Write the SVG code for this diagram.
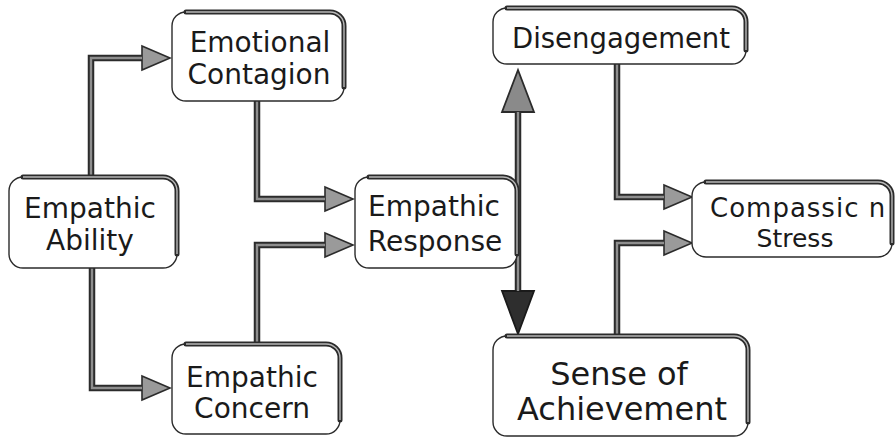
<svg xmlns="http://www.w3.org/2000/svg" width="896" height="438" viewBox="0 0 896 438">
  <style>
    .box { fill: #ffffff; stroke: #2b2b2b; stroke-width: 1.4; }
    .edge { fill: none; stroke: #2b2b2b; stroke-width: 5; stroke-linecap: round; }
    .edge-in { fill: none; stroke: #b8b8b8; stroke-width: 1.4; }
    .wire { fill: none; stroke: #2b2b2b; stroke-width: 6.5; stroke-linejoin: miter; }
    .wire-in { fill: none; stroke: #8e8e8e; stroke-width: 2.4; stroke-linejoin: miter; }
    .label { font-family: "DejaVu Sans", "Liberation Sans", sans-serif; fill: #1a1a1a; text-anchor: middle; font-size: 28px; }
  </style>
  <defs>
    <!-- small grey arrowhead, base at the path end -->
    <marker id="tip" markerUnits="userSpaceOnUse" viewBox="-2 -14 33 28" refX="0" refY="0" markerWidth="33" markerHeight="28" orient="auto">
      <path d="M0,-12 L28,0 L0,12 Z" fill="#9a9a9a" stroke="#2b2b2b" stroke-width="1.6" stroke-linejoin="miter"/>
    </marker>
    <!-- large hatched-grey arrowhead -->
    <marker id="tip-big" markerUnits="userSpaceOnUse" viewBox="-2 -19 48 38" refX="0" refY="0" markerWidth="48" markerHeight="38" orient="auto">
      <path d="M0,-16 L42,0 L0,16 Z" fill="#8a8a8a" stroke="#2b2b2b" stroke-width="1.8" stroke-linejoin="miter"/>
    </marker>
    <!-- large dark arrowhead -->
    <marker id="tip-dark" markerUnits="userSpaceOnUse" viewBox="-2 -19 48 38" refX="0" refY="0" markerWidth="48" markerHeight="38" orient="auto">
      <path d="M0,-16 L43,0 L0,16 Z" fill="#2e2e2e" stroke="#1a1a1a" stroke-width="1.8" stroke-linejoin="miter"/>
    </marker>
  </defs>

  <rect width="896" height="438" fill="#ffffff"/>

  <!-- connectors -->
  <g id="connectors">
    <path class="wire" d="M91,177 V58 H142" marker-end="url(#tip)"/>
    <path class="wire-in" d="M91,177 V58 H142"/>
    <path class="wire" d="M92,268 V388 H142" marker-end="url(#tip)"/>
    <path class="wire-in" d="M92,268 V388 H142"/>
    <path class="wire" d="M257,101 V199 H325" marker-end="url(#tip)"/>
    <path class="wire-in" d="M257,101 V199 H325"/>
    <path class="wire" d="M257,344 V245 H325" marker-end="url(#tip)"/>
    <path class="wire-in" d="M257,344 V245 H325"/>
    <path class="wire" d="M518,200 V112" marker-end="url(#tip-big)"/>
    <path class="wire-in" d="M518,200 V112"/>
    <path class="wire" d="M518,200 V291" marker-end="url(#tip-dark)"/>
    <path class="wire-in" d="M518,200 V291"/>
    <path class="wire" d="M617,64 V197 H664" marker-end="url(#tip)"/>
    <path class="wire-in" d="M617,64 V197 H664"/>
    <path class="wire" d="M617,336 V243 H664" marker-end="url(#tip)"/>
    <path class="wire-in" d="M617,336 V243 H664"/>
  </g>

  <g id="emotional-contagion">
    <rect class="box" x="172" y="12" width="172" height="89" rx="14"/>
    <path class="edge" d="M186,12 H330 A14,14 0 0 1 344,26 V87"/>
    <path class="edge-in" d="M186,12 H330 A14,14 0 0 1 344,26 V87"/>
    <text class="label" x="260" y="52">Emotional</text>
    <text class="label" x="259" y="84">Contagion</text>
  </g>

  <g id="empathic-ability">
    <rect class="box" x="9" y="177" width="168" height="91" rx="14"/>
    <path class="edge" d="M23,177 H163 A14,14 0 0 1 177,191 V254"/>
    <path class="edge-in" d="M23,177 H163 A14,14 0 0 1 177,191 V254"/>
    <text class="label" x="90" y="218">Empathic</text>
    <text class="label" x="90" y="250">Ability</text>
  </g>

  <g id="empathic-concern">
    <rect class="box" x="172" y="344" width="168" height="90" rx="14"/>
    <path class="edge" d="M186,344 H326 A14,14 0 0 1 340,358 V420"/>
    <path class="edge-in" d="M186,344 H326 A14,14 0 0 1 340,358 V420"/>
    <text class="label" x="252" y="387">Empathic</text>
    <text class="label" x="252" y="418">Concern</text>
  </g>

  <g id="empathic-response">
    <rect class="box" x="355" y="177" width="162" height="91" rx="14"/>
    <path class="edge" d="M369,177 H503 A14,14 0 0 1 517,191 V254"/>
    <path class="edge-in" d="M369,177 H503 A14,14 0 0 1 517,191 V254"/>
    <text class="label" x="434" y="216">Empathic</text>
    <text class="label" x="435" y="251">Response</text>
  </g>

  <g id="disengagement">
    <rect class="box" x="493" y="8" width="253" height="56" rx="14"/>
    <path class="edge" d="M507,8 H732 A14,14 0 0 1 746,22 V50"/>
    <path class="edge-in" d="M507,8 H732 A14,14 0 0 1 746,22 V50"/>
    <text class="label" x="621" y="48" style="font-size:27.5px">Disengagement</text>
  </g>

  <g id="sense-of-achievement">
    <rect class="box" x="493" y="336" width="255" height="100" rx="14"/>
    <path class="edge" d="M507,336 H734 A14,14 0 0 1 748,350 V422"/>
    <path class="edge-in" d="M507,336 H734 A14,14 0 0 1 748,350 V422"/>
    <text class="label" x="619" y="385" style="font-size:32px">Sense of</text>
    <text class="label" x="622" y="420" style="font-size:32px">Achievement</text>
  </g>

  <g id="compassion-stress">
    <rect class="box" x="692" y="182" width="200" height="75" rx="14"/>
    <path class="edge" d="M706,182 H878 A14,14 0 0 1 892,196 V243"/>
    <path class="edge-in" d="M706,182 H878 A14,14 0 0 1 892,196 V243"/>
    <text class="label" x="710" y="217" style="font-size:26px; text-anchor:start; letter-spacing:1px">Compassic n</text>
    <text class="label" x="795" y="247" style="font-size:25px">Stress</text>
  </g>
</svg>
